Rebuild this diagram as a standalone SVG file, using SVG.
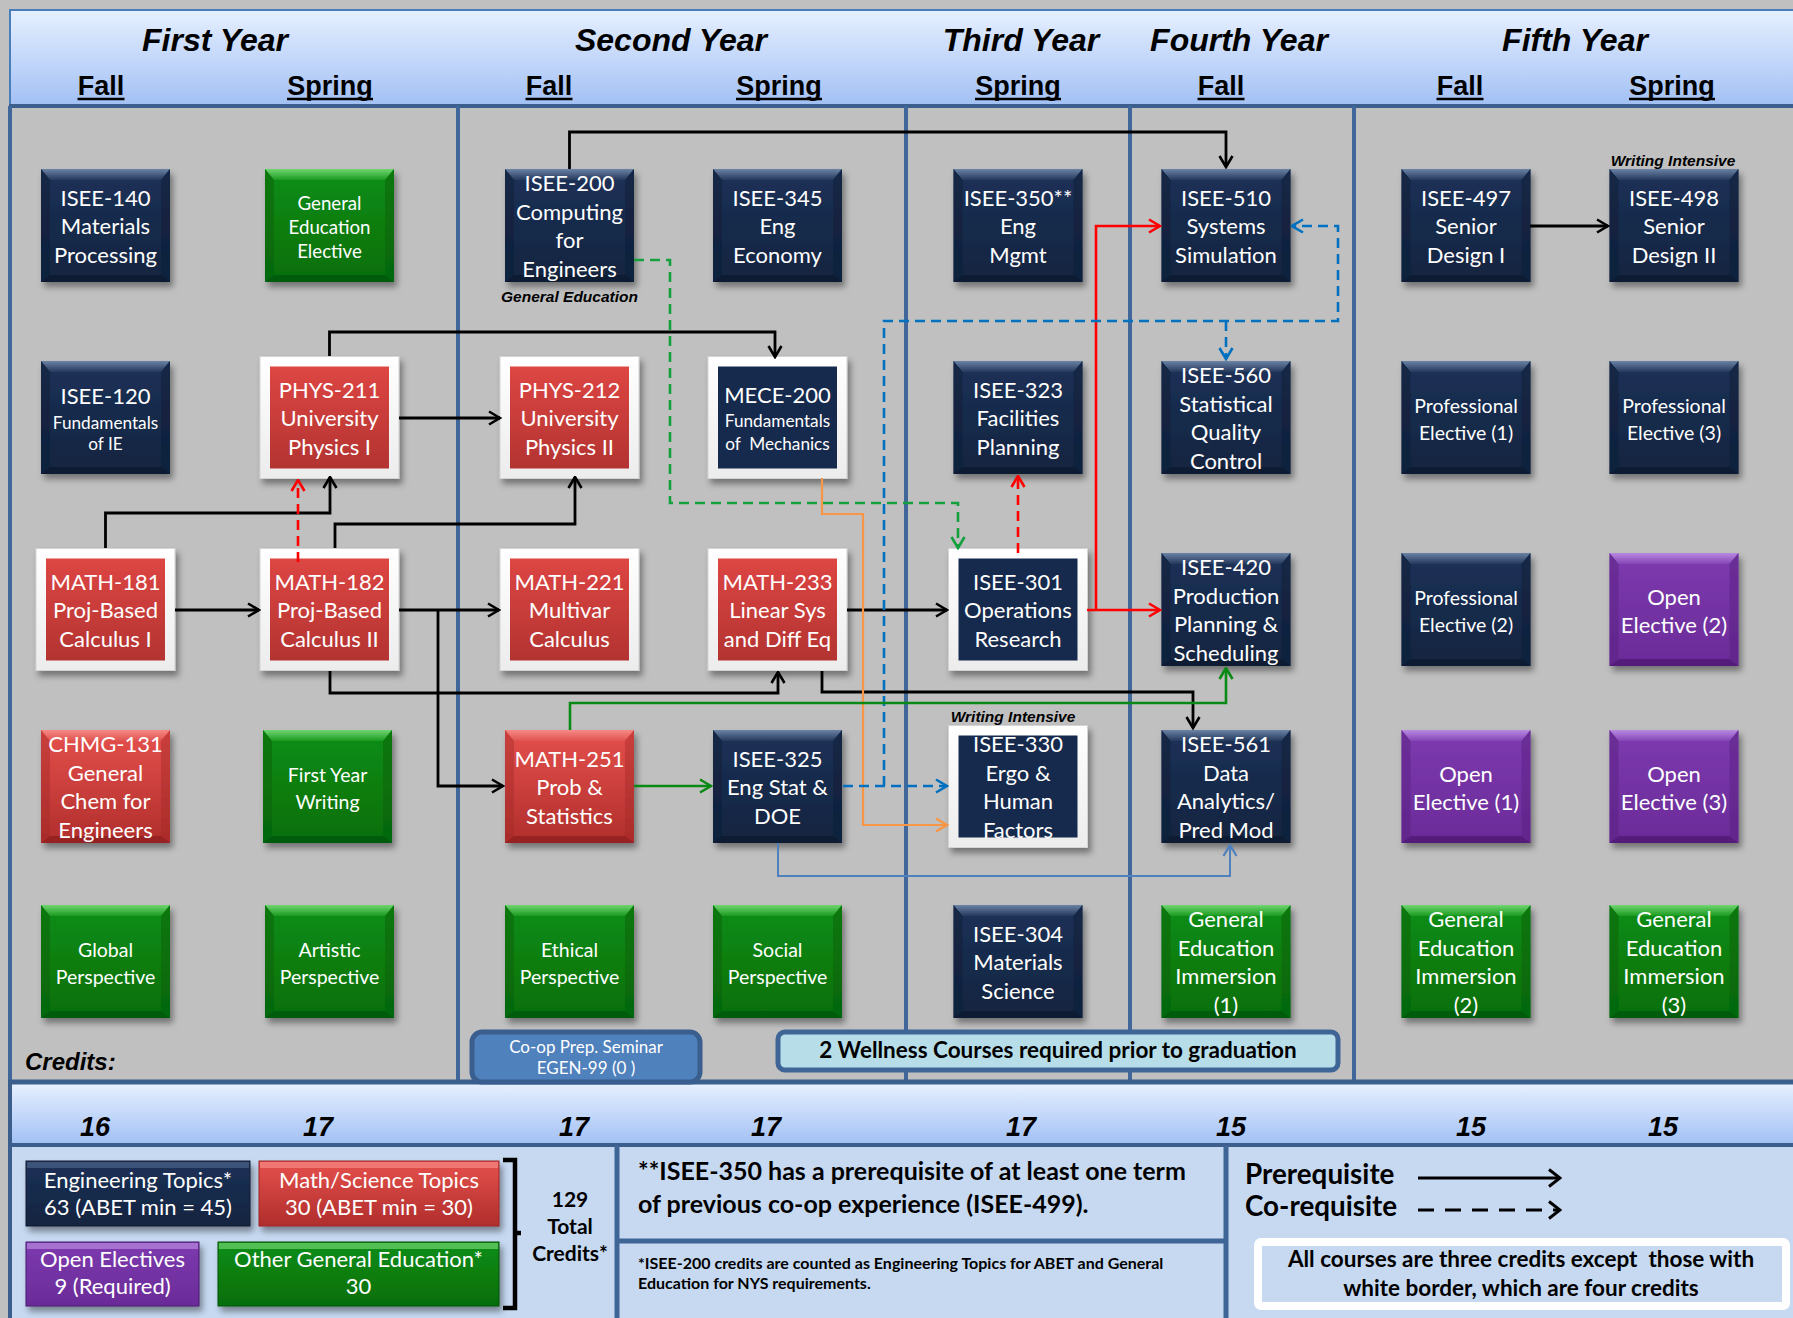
<svg xmlns="http://www.w3.org/2000/svg" xmlns:xlink="http://www.w3.org/1999/xlink" width="1793" height="1318" viewBox="0 0 1793 1318">
<defs>
<style>
.w{font-family:Lato,"Liberation Sans",sans-serif;fill:#fff;text-anchor:middle;font-size:22px}
.s19{font-size:19.5px}
.s18{font-size:18.7px}
.s17{font-size:17.2px}
.hd{font-family:"Liberation Sans",Arial,sans-serif;font-weight:bold;font-style:italic;text-anchor:middle;fill:#000}
.yr{font-size:32px}
.sem{font-size:27px;font-style:normal}
.cr{font-size:27px}
.lbl{font-family:"Liberation Sans",Arial,sans-serif;font-weight:bold;font-style:italic;font-size:15.5px;text-anchor:middle;fill:#000}
.bt{font-family:Lato,"Liberation Sans",sans-serif;font-weight:bold;fill:#000}
.sep{stroke:#41669a;stroke-width:4}
.k{stroke:#000;stroke-width:2.8}
.r{stroke:#f00;stroke-width:2.6}
.rd{stroke:#f00;stroke-width:2.6;stroke-dasharray:10 6}
.gd{stroke:#14a03c;stroke-width:2.6;stroke-dasharray:10 6}
.g{stroke:#0a8a14;stroke-width:2.6}
.bd{stroke:#0070c0;stroke-width:2.6;stroke-dasharray:10 6}
.lb{stroke:#4f81bd;stroke-width:2}
.o{stroke:#f79646;stroke-width:2.2}
</style>
<linearGradient id="gHdr" x1="0" y1="0" x2="0" y2="1"><stop offset="0" stop-color="#e6f0ff"/><stop offset="1" stop-color="#a2c0f4"/></linearGradient>
<linearGradient id="gNavy" x1="0" y1="0" x2="0" y2="1"><stop offset="0" stop-color="#1c3157"/><stop offset="1" stop-color="#13243f"/></linearGradient>
<linearGradient id="gNavyT" x1="0" y1="0" x2="0" y2="1"><stop offset="0" stop-color="#6b83a6"/><stop offset="1" stop-color="#25395c"/></linearGradient>
<linearGradient id="gGreen" x1="0" y1="0" x2="0" y2="1"><stop offset="0" stop-color="#0e8e15"/><stop offset="1" stop-color="#066e0c"/></linearGradient>
<linearGradient id="gGreenT" x1="0" y1="0" x2="0" y2="1"><stop offset="0" stop-color="#70d670"/><stop offset="1" stop-color="#1a9a20"/></linearGradient>
<linearGradient id="gPur" x1="0" y1="0" x2="0" y2="1"><stop offset="0" stop-color="#7d3aaf"/><stop offset="1" stop-color="#6a2b98"/></linearGradient>
<linearGradient id="gPurT" x1="0" y1="0" x2="0" y2="1"><stop offset="0" stop-color="#b88ae0"/><stop offset="1" stop-color="#8445b6"/></linearGradient>
<linearGradient id="gRed" x1="0" y1="0" x2="0" y2="1"><stop offset="0" stop-color="#e5504c"/><stop offset="1" stop-color="#b02e2c"/></linearGradient>
<linearGradient id="gRedT" x1="0" y1="0" x2="0" y2="1"><stop offset="0" stop-color="#f68a86"/><stop offset="1" stop-color="#e0524e"/></linearGradient>
<linearGradient id="gRedIn" x1="0" y1="0" x2="0" y2="1"><stop offset="0" stop-color="#dd4643"/><stop offset="1" stop-color="#b33331"/></linearGradient>
<linearGradient id="gWhite" x1="0" y1="0" x2="0" y2="1"><stop offset="0" stop-color="#ffffff"/><stop offset="1" stop-color="#ececec"/></linearGradient>
<filter id="sh" x="-10%" y="-10%" width="130%" height="130%"><feDropShadow dx="3" dy="5" stdDeviation="3" flood-color="#000" flood-opacity="0.4"/></filter>
<g id="bxN"><rect width="129" height="113" fill="url(#gNavy)"/><path d="M0,0H129L120,11H9Z" fill="url(#gNavyT)"/><path d="M0,113H129L120,106H9Z" fill="#0b172b" opacity="0.7"/><path d="M0,0L9,11V106L0,113Z" fill="#0f1f3a" opacity="0.6"/><path d="M129,0L120,11V106L129,113Z" fill="#0f1f3a" opacity="0.6"/></g>
<g id="bxG"><rect width="129" height="113" fill="url(#gGreen)"/><path d="M0,0H129L120,11H9Z" fill="url(#gGreenT)"/><path d="M0,113H129L120,106H9Z" fill="#04520a" opacity="0.7"/><path d="M0,0L9,11V106L0,113Z" fill="#05600a" opacity="0.5"/><path d="M129,0L120,11V106L129,113Z" fill="#05600a" opacity="0.5"/></g>
<g id="bxP"><rect width="129" height="113" fill="url(#gPur)"/><path d="M0,0H129L120,11H9Z" fill="url(#gPurT)"/><path d="M0,113H129L120,106H9Z" fill="#4a1a6e" opacity="0.7"/><path d="M0,0L9,11V106L0,113Z" fill="#5a2282" opacity="0.5"/><path d="M129,0L120,11V106L129,113Z" fill="#5a2282" opacity="0.5"/></g>
<g id="bxR"><rect width="129" height="113" fill="url(#gRed)"/><path d="M0,0H129L120,11H9Z" fill="url(#gRedT)"/><path d="M0,113H129L120,106H9Z" fill="#8a2020" opacity="0.7"/><path d="M0,0L9,11V106L0,113Z" fill="#a02828" opacity="0.4"/><path d="M129,0L120,11V106L129,113Z" fill="#a02828" opacity="0.4"/></g>
<g id="frN"><rect width="139" height="122" fill="url(#gWhite)" stroke="#d4d4d4"/><rect x="10" y="10" width="119" height="102" fill="#172b4d"/></g>
<g id="frR"><rect width="139" height="122" fill="url(#gWhite)" stroke="#d4d4d4"/><rect x="10" y="10" width="119" height="102" fill="url(#gRedIn)"/></g>
<marker id="aK" viewBox="0 0 14 16" refX="12.5" refY="8" markerWidth="14" markerHeight="16" markerUnits="userSpaceOnUse" orient="auto"><path d="M1.5,1.5L12.5,8L1.5,14.5" fill="none" stroke="#000" stroke-width="2.6"/></marker>
<marker id="aR" viewBox="0 0 14 16" refX="12.5" refY="8" markerWidth="14" markerHeight="16" markerUnits="userSpaceOnUse" orient="auto"><path d="M1.5,1.5L12.5,8L1.5,14.5" fill="none" stroke="#f00" stroke-width="2.6"/></marker>
<marker id="aGd" viewBox="0 0 14 16" refX="12.5" refY="8" markerWidth="14" markerHeight="16" markerUnits="userSpaceOnUse" orient="auto"><path d="M1.5,1.5L12.5,8L1.5,14.5" fill="none" stroke="#14a03c" stroke-width="2.6"/></marker>
<marker id="aG" viewBox="0 0 14 16" refX="12.5" refY="8" markerWidth="14" markerHeight="16" markerUnits="userSpaceOnUse" orient="auto"><path d="M1.5,1.5L12.5,8L1.5,14.5" fill="none" stroke="#0a8a14" stroke-width="2.6"/></marker>
<marker id="aB" viewBox="0 0 14 16" refX="12.5" refY="8" markerWidth="14" markerHeight="16" markerUnits="userSpaceOnUse" orient="auto"><path d="M1.5,1.5L12.5,8L1.5,14.5" fill="none" stroke="#0070c0" stroke-width="2.6"/></marker>
<marker id="aLb" viewBox="0 0 14 16" refX="12.5" refY="8" markerWidth="14" markerHeight="16" markerUnits="userSpaceOnUse" orient="auto"><path d="M1.5,1.5L12.5,8L1.5,14.5" fill="none" stroke="#4f81bd" stroke-width="2.2"/></marker>
<marker id="aO" viewBox="0 0 14 16" refX="12.5" refY="8" markerWidth="14" markerHeight="16" markerUnits="userSpaceOnUse" orient="auto"><path d="M1.5,1.5L12.5,8L1.5,14.5" fill="none" stroke="#f79646" stroke-width="2.4"/></marker>
<marker id="aL" viewBox="0 0 14 20" refX="12.5" refY="10" markerWidth="14" markerHeight="20" markerUnits="userSpaceOnUse" orient="auto"><path d="M1.5,1.5L12.5,10L1.5,18.5" fill="none" stroke="#000" stroke-width="3"/></marker>
</defs>

<!-- background -->
<rect width="1793" height="1318" fill="#c0c0c0"/>
<rect x="10" y="10" width="1790" height="96" fill="url(#gHdr)" stroke="#4a7ebb" stroke-width="2"/>
<line x1="9" y1="106" x2="1793" y2="106" stroke="#3b5e8c" stroke-width="4"/>

<!-- header texts -->
<g id="header">
<text class="hd yr" x="215" y="51">First Year</text>
<text class="hd yr" x="671" y="51">Second Year</text>
<text class="hd yr" x="1021" y="51">Third Year</text>
<text class="hd yr" x="1239" y="51">Fourth Year</text>
<text class="hd yr" x="1575" y="51">Fifth Year</text>
<text class="hd sem" x="101" y="95">Fall</text>
<text class="hd sem" x="330" y="95">Spring</text>
<text class="hd sem" x="549" y="95">Fall</text>
<text class="hd sem" x="779" y="95">Spring</text>
<text class="hd sem" x="1018" y="95">Spring</text>
<text class="hd sem" x="1221" y="95">Fall</text>
<text class="hd sem" x="1460" y="95">Fall</text>
<text class="hd sem" x="1672" y="95">Spring</text>
<g stroke="#000" stroke-width="2.6">
<line x1="77.5" y1="99" x2="124.5" y2="99"/>
<line x1="287" y1="99" x2="373" y2="99"/>
<line x1="525.5" y1="99" x2="572.5" y2="99"/>
<line x1="736" y1="99" x2="822" y2="99"/>
<line x1="975" y1="99" x2="1061" y2="99"/>
<line x1="1197.5" y1="99" x2="1244.5" y2="99"/>
<line x1="1436.5" y1="99" x2="1483.5" y2="99"/>
<line x1="1629" y1="99" x2="1715" y2="99"/>
</g>
</g>

<!-- column separators -->
<g id="separators">
<line class="sep" x1="10" y1="106" x2="10" y2="1318"/>
<line class="sep" x1="458" y1="106" x2="458" y2="1080"/>
<line class="sep" x1="906" y1="106" x2="906" y2="1080"/>
<line class="sep" x1="1130" y1="106" x2="1130" y2="1080"/>
<line class="sep" x1="1354" y1="106" x2="1354" y2="1080"/>
</g>

<!-- bottom bands -->
<g id="footer">
<rect x="10" y="1084" width="1790" height="60" fill="url(#gHdr)"/>
<rect x="10" y="1146" width="1790" height="180" fill="#c6d9f1"/>
<line x1="8" y1="1082" x2="1793" y2="1082" stroke="#3b5e8c" stroke-width="5"/>
<line x1="8" y1="1145" x2="1793" y2="1145" stroke="#3b5e8c" stroke-width="4"/>
<line x1="10" y1="1080" x2="10" y2="1318" stroke="#3b5e8c" stroke-width="4"/>
<line x1="617" y1="1145" x2="617" y2="1318" stroke="#3f6597" stroke-width="5"/>
<line x1="1226" y1="1145" x2="1226" y2="1318" stroke="#3f6597" stroke-width="5"/>
<line x1="617" y1="1241" x2="1226" y2="1241" stroke="#3f6597" stroke-width="5"/>
<text class="hd cr" x="95" y="1136">16</text>
<text class="hd cr" x="318" y="1136">17</text>
<text class="hd cr" x="574" y="1136">17</text>
<text class="hd cr" x="766" y="1136">17</text>
<text class="hd cr" x="1021" y="1136">17</text>
<text class="hd cr" x="1231" y="1136">15</text>
<text class="hd cr" x="1471" y="1136">15</text>
<text class="hd cr" x="1663" y="1136">15</text>
<text class="hd" x="25" y="1070" style="font-size:24px;text-anchor:start">Credits:</text>
</g>

<!-- nodes -->
<g id="nodes">
<g id="n-isee140"><use xlink:href="#bxN" x="41" y="169" filter="url(#sh)"/><text class="w"><tspan x="105.5" y="205.5">ISEE-140</tspan><tspan x="105.5" y="234">Materials</tspan><tspan x="105.5" y="262.5">Processing</tspan></text></g>
<g id="n-gened"><use xlink:href="#bxG" x="265" y="169" filter="url(#sh)"/><text class="w s18"><tspan x="329.5" y="209.5">General</tspan><tspan x="329.5" y="233.5">Education</tspan><tspan x="329.5" y="257.5">Elective</tspan></text></g>
<g id="n-isee200"><use xlink:href="#bxN" x="505" y="169" filter="url(#sh)"/><text class="w"><tspan x="569.5" y="191">ISEE-200</tspan><tspan x="569.5" y="220">Computing</tspan><tspan x="569.5" y="248">for</tspan><tspan x="569.5" y="277">Engineers</tspan></text><text class="lbl" x="569.5" y="302">General Education</text></g>
<g id="n-isee345"><use xlink:href="#bxN" x="713" y="169" filter="url(#sh)"/><text class="w"><tspan x="777.5" y="205.5">ISEE-345</tspan><tspan x="777.5" y="234">Eng</tspan><tspan x="777.5" y="262.5">Economy</tspan></text></g>
<g id="n-isee350"><use xlink:href="#bxN" x="953.5" y="169" filter="url(#sh)"/><text class="w"><tspan x="1018" y="205.5">ISEE-350**</tspan><tspan x="1018" y="234">Eng</tspan><tspan x="1018" y="262.5">Mgmt</tspan></text></g>
<g id="n-isee510"><use xlink:href="#bxN" x="1161.5" y="169" filter="url(#sh)"/><text class="w"><tspan x="1226" y="205.5">ISEE-510</tspan><tspan x="1226" y="234">Systems</tspan><tspan x="1226" y="262.5">Simulation</tspan></text></g>
<g id="n-isee497"><use xlink:href="#bxN" x="1401.5" y="169" filter="url(#sh)"/><text class="w"><tspan x="1466" y="205.5">ISEE-497</tspan><tspan x="1466" y="234">Senior</tspan><tspan x="1466" y="262.5">Design I</tspan></text></g>
<g id="n-isee498"><use xlink:href="#bxN" x="1609.5" y="169" filter="url(#sh)"/><text class="w"><tspan x="1674" y="205.5">ISEE-498</tspan><tspan x="1674" y="234">Senior</tspan><tspan x="1674" y="262.5">Design II</tspan></text><text class="lbl" x="1673" y="166">Writing Intensive</text></g>

<g id="n-isee120"><use xlink:href="#bxN" x="41" y="361" filter="url(#sh)"/><text class="w"><tspan x="105.5" y="404">ISEE-120</tspan><tspan class="s17" x="105.5" y="429">Fundamentals</tspan><tspan class="s17" x="105.5" y="450">of IE</tspan></text></g>
<g id="n-phys211"><use xlink:href="#frR" x="260" y="356.5" filter="url(#sh)"/><text class="w"><tspan x="329.5" y="397.5">PHYS-211</tspan><tspan x="329.5" y="426">University</tspan><tspan x="329.5" y="454.5">Physics I</tspan></text></g>
<g id="n-phys212"><use xlink:href="#frR" x="500" y="356.5" filter="url(#sh)"/><text class="w"><tspan x="569.5" y="397.5">PHYS-212</tspan><tspan x="569.5" y="426">University</tspan><tspan x="569.5" y="454.5">Physics II</tspan></text></g>
<g id="n-mece200"><use xlink:href="#frN" x="708" y="356.5" filter="url(#sh)"/><text class="w"><tspan x="777.5" y="403">MECE-200</tspan><tspan class="s17" x="777.5" y="427">Fundamentals</tspan><tspan class="s17" x="777.5" y="450">of&#160; Mechanics</tspan></text></g>
<g id="n-isee323"><use xlink:href="#bxN" x="953.5" y="361" filter="url(#sh)"/><text class="w"><tspan x="1018" y="397.5">ISEE-323</tspan><tspan x="1018" y="426">Facilities</tspan><tspan x="1018" y="454.5">Planning</tspan></text></g>
<g id="n-isee560"><use xlink:href="#bxN" x="1161.5" y="361" filter="url(#sh)"/><text class="w"><tspan x="1226" y="383">ISEE-560</tspan><tspan x="1226" y="412">Statistical</tspan><tspan x="1226" y="440">Quality</tspan><tspan x="1226" y="469">Control</tspan></text></g>
<g id="n-prof1"><use xlink:href="#bxN" x="1401.5" y="361" filter="url(#sh)"/><text class="w s19"><tspan x="1466" y="412.5">Professional</tspan><tspan x="1466" y="439.5">Elective (1)</tspan></text></g>
<g id="n-prof3"><use xlink:href="#bxN" x="1609.5" y="361" filter="url(#sh)"/><text class="w s19"><tspan x="1674" y="412.5">Professional</tspan><tspan x="1674" y="439.5">Elective (3)</tspan></text></g>

<g id="n-math181"><use xlink:href="#frR" x="36" y="548.5" filter="url(#sh)"/><text class="w"><tspan x="105.5" y="589.5">MATH-181</tspan><tspan x="105.5" y="618">Proj-Based</tspan><tspan x="105.5" y="646.5">Calculus I</tspan></text></g>
<g id="n-math182"><use xlink:href="#frR" x="260" y="548.5" filter="url(#sh)"/><text class="w"><tspan x="329.5" y="589.5">MATH-182</tspan><tspan x="329.5" y="618">Proj-Based</tspan><tspan x="329.5" y="646.5">Calculus II</tspan></text></g>
<g id="n-math221"><use xlink:href="#frR" x="500" y="548.5" filter="url(#sh)"/><text class="w"><tspan x="569.5" y="589.5">MATH-221</tspan><tspan x="569.5" y="618">Multivar</tspan><tspan x="569.5" y="646.5">Calculus</tspan></text></g>
<g id="n-math233"><use xlink:href="#frR" x="708" y="548.5" filter="url(#sh)"/><text class="w"><tspan x="777.5" y="589.5">MATH-233</tspan><tspan x="777.5" y="618">Linear Sys</tspan><tspan x="777.5" y="646.5">and Diff Eq</tspan></text></g>
<g id="n-isee301"><use xlink:href="#frN" x="948.5" y="548.5" filter="url(#sh)"/><text class="w"><tspan x="1018" y="589.5">ISEE-301</tspan><tspan x="1018" y="618">Operations</tspan><tspan x="1018" y="646.5">Research</tspan></text></g>
<g id="n-isee420"><use xlink:href="#bxN" x="1161.5" y="553" filter="url(#sh)"/><text class="w"><tspan x="1226" y="575">ISEE-420</tspan><tspan x="1226" y="604">Production</tspan><tspan x="1226" y="632">Planning &amp;</tspan><tspan x="1226" y="661">Scheduling</tspan></text></g>
<g id="n-prof2"><use xlink:href="#bxN" x="1401.5" y="553" filter="url(#sh)"/><text class="w s19"><tspan x="1466" y="604.5">Professional</tspan><tspan x="1466" y="631.5">Elective (2)</tspan></text></g>
<g id="n-open2"><use xlink:href="#bxP" x="1609.5" y="553" filter="url(#sh)"/><text class="w"><tspan x="1674" y="604.5">Open</tspan><tspan x="1674" y="632.5">Elective (2)</tspan></text></g>

<g id="n-chmg131"><use xlink:href="#bxR" x="41" y="730" filter="url(#sh)"/><text class="w"><tspan x="105.5" y="752">CHMG-131</tspan><tspan x="105.5" y="781">General</tspan><tspan x="105.5" y="809">Chem for</tspan><tspan x="105.5" y="838">Engineers</tspan></text></g>
<g id="n-fyw"><use xlink:href="#bxG" x="263" y="730" filter="url(#sh)"/><text class="w s19"><tspan x="327.5" y="781.5">First Year</tspan><tspan x="327.5" y="808.5">Writing</tspan></text></g>
<g id="n-math251"><use xlink:href="#bxR" x="505" y="730" filter="url(#sh)"/><text class="w"><tspan x="569.5" y="766.5">MATH-251</tspan><tspan x="569.5" y="795">Prob &amp;</tspan><tspan x="569.5" y="823.5">Statistics</tspan></text></g>
<g id="n-isee325"><use xlink:href="#bxN" x="713" y="730" filter="url(#sh)"/><text class="w"><tspan x="777.5" y="766.5">ISEE-325</tspan><tspan x="777.5" y="795">Eng Stat &amp;</tspan><tspan x="777.5" y="823.5">DOE</tspan></text></g>
<g id="n-isee330"><use xlink:href="#frN" x="948.5" y="725.5" filter="url(#sh)"/><text class="w"><tspan x="1018" y="752">ISEE-330</tspan><tspan x="1018" y="781">Ergo &amp;</tspan><tspan x="1018" y="809">Human</tspan><tspan x="1018" y="838">Factors</tspan></text><text class="lbl" x="1013" y="722">Writing Intensive</text></g>
<g id="n-isee561"><use xlink:href="#bxN" x="1161.5" y="730" filter="url(#sh)"/><text class="w"><tspan x="1226" y="752">ISEE-561</tspan><tspan x="1226" y="781">Data</tspan><tspan x="1226" y="809">Analytics/</tspan><tspan x="1226" y="838">Pred Mod</tspan></text></g>
<g id="n-open1"><use xlink:href="#bxP" x="1401.5" y="730" filter="url(#sh)"/><text class="w"><tspan x="1466" y="781.5">Open</tspan><tspan x="1466" y="809.5">Elective (1)</tspan></text></g>
<g id="n-open3"><use xlink:href="#bxP" x="1609.5" y="730" filter="url(#sh)"/><text class="w"><tspan x="1674" y="781.5">Open</tspan><tspan x="1674" y="809.5">Elective (3)</tspan></text></g>

<g id="n-global"><use xlink:href="#bxG" x="41" y="905" filter="url(#sh)"/><text class="w s19"><tspan x="105.5" y="956.5">Global</tspan><tspan x="105.5" y="983.5">Perspective</tspan></text></g>
<g id="n-artistic"><use xlink:href="#bxG" x="265" y="905" filter="url(#sh)"/><text class="w s19"><tspan x="329.5" y="956.5">Artistic</tspan><tspan x="329.5" y="983.5">Perspective</tspan></text></g>
<g id="n-ethical"><use xlink:href="#bxG" x="505" y="905" filter="url(#sh)"/><text class="w s19"><tspan x="569.5" y="956.5">Ethical</tspan><tspan x="569.5" y="983.5">Perspective</tspan></text></g>
<g id="n-social"><use xlink:href="#bxG" x="713" y="905" filter="url(#sh)"/><text class="w s19"><tspan x="777.5" y="956.5">Social</tspan><tspan x="777.5" y="983.5">Perspective</tspan></text></g>
<g id="n-isee304"><use xlink:href="#bxN" x="953.5" y="905" filter="url(#sh)"/><text class="w"><tspan x="1018" y="941.5">ISEE-304</tspan><tspan x="1018" y="970">Materials</tspan><tspan x="1018" y="998.5">Science</tspan></text></g>
<g id="n-gei1"><use xlink:href="#bxG" x="1161.5" y="905" filter="url(#sh)"/><text class="w"><tspan x="1226" y="927">General</tspan><tspan x="1226" y="956">Education</tspan><tspan x="1226" y="984">Immersion</tspan><tspan x="1226" y="1013">(1)</tspan></text></g>
<g id="n-gei2"><use xlink:href="#bxG" x="1401.5" y="905" filter="url(#sh)"/><text class="w"><tspan x="1466" y="927">General</tspan><tspan x="1466" y="956">Education</tspan><tspan x="1466" y="984">Immersion</tspan><tspan x="1466" y="1013">(2)</tspan></text></g>
<g id="n-gei3"><use xlink:href="#bxG" x="1609.5" y="905" filter="url(#sh)"/><text class="w"><tspan x="1674" y="927">General</tspan><tspan x="1674" y="956">Education</tspan><tspan x="1674" y="984">Immersion</tspan><tspan x="1674" y="1013">(3)</tspan></text></g>

<g id="n-coop"><rect x="472" y="1032" width="228" height="50" rx="10" fill="#4f81bd" stroke="#3a5f8f" stroke-width="5"/><text class="w" style="font-size:17px"><tspan x="586" y="1053">Co-op Prep. Seminar</tspan><tspan x="586" y="1074">EGEN-99 (0 )</tspan></text></g>
<g id="n-wellness"><rect x="778" y="1032" width="560" height="38" rx="7" fill="#b7dee8" stroke="#3f6597" stroke-width="5"/><text class="bt" x="1058" y="1058" style="font-size:22.5px;text-anchor:middle">2 Wellness Courses required prior to graduation</text></g>
</g>

<!-- connectors -->
<g id="connectors" fill="none">
<path class="k" d="M569.5,169V132H1226V167" marker-end="url(#aK)"/>
<path class="k" d="M329.5,356V332H775V357" marker-end="url(#aK)"/>
<path class="k" d="M399,418H500" marker-end="url(#aK)"/>
<path class="k" d="M105.5,548V513H330V477" marker-end="url(#aK)"/>
<path class="k" d="M335,548V524H575V477" marker-end="url(#aK)"/>
<path class="rd" d="M298,562V480" marker-end="url(#aR)"/>
<path class="k" d="M175,610H259" marker-end="url(#aK)"/>
<path class="k" d="M399,610H499" marker-end="url(#aK)"/>
<path class="k" d="M438,610V786H503" marker-end="url(#aK)"/>
<path class="k" d="M330,671V693H778V672" marker-end="url(#aK)"/>
<path class="k" d="M822,671V692H1193V728" marker-end="url(#aK)"/>
<path class="k" d="M847,610H947" marker-end="url(#aK)"/>
<path class="r" d="M1087,610H1160" marker-end="url(#aR)"/>
<path class="r" d="M1096,610V226H1160" marker-end="url(#aR)"/>
<path class="rd" d="M1018,553V476" marker-end="url(#aR)"/>
<path class="gd" d="M634,260H670V503H958V548" marker-end="url(#aGd)"/>
<path class="o" d="M822,478V514H863V825H947" marker-end="url(#aO)"/>
<path class="bd" d="M843,786H947" marker-end="url(#aB)"/>
<path class="bd" d="M884,786V321H1338V226H1292" marker-end="url(#aB)"/>
<path class="bd" d="M1226,321V359" marker-end="url(#aB)"/>
<path class="g" d="M634,786H711" marker-end="url(#aG)"/>
<path class="g" d="M570,730V703H1226V668" marker-end="url(#aG)"/>
<path class="lb" d="M778,843V876H1230V845" marker-end="url(#aLb)"/>
<path class="k" d="M1530,226H1608" marker-end="url(#aK)"/>
</g>

<!-- legend / bottom panel -->
<g id="legend">
<g id="lg-eng"><rect x="26" y="1161" width="224" height="65" fill="url(#gNavy)" stroke="#0e1c33" filter="url(#sh)"/><rect x="27" y="1162" width="222" height="6" fill="#4a6388" opacity="0.7"/><text class="w"><tspan x="138" y="1188">Engineering Topics*</tspan><tspan x="138" y="1215">63 (ABET min = 45)</tspan></text></g>
<g id="lg-math"><rect x="259" y="1161" width="240" height="65" fill="url(#gRed)" stroke="#9a2626" filter="url(#sh)"/><rect x="260" y="1162" width="238" height="6" fill="#f68a86" opacity="0.7"/><text class="w"><tspan x="379" y="1188">Math/Science Topics</tspan><tspan x="379" y="1215">30 (ABET min = 30)</tspan></text></g>
<g id="lg-open"><rect x="26" y="1242" width="173" height="64" fill="url(#gPur)" stroke="#4a1a6e" filter="url(#sh)"/><rect x="27" y="1243" width="171" height="6" fill="#b88ae0" opacity="0.7"/><text class="w"><tspan x="112.5" y="1267">Open Electives</tspan><tspan x="112.5" y="1294">9 (Required)</tspan></text></g>
<g id="lg-gen"><rect x="218" y="1242" width="281" height="64" fill="url(#gGreen)" stroke="#04520a" filter="url(#sh)"/><rect x="219" y="1243" width="279" height="6" fill="#70d670" opacity="0.7"/><text class="w"><tspan x="358.5" y="1267">Other General Education*</tspan><tspan x="358.5" y="1294">30</tspan></text></g>
<path d="M503,1160H515V1308H503M515,1233H521" fill="none" stroke="#000" stroke-width="4.5"/>
<text class="bt" style="font-size:21px;text-anchor:middle"><tspan x="570" y="1207">129</tspan><tspan x="570" y="1234">Total</tspan><tspan x="570" y="1261">Credits*</tspan></text>
<text class="bt" style="font-size:25px"><tspan x="638" y="1180">**ISEE-350 has a prerequisite of at least one term</tspan><tspan x="638" y="1213">of previous co-op experience (ISEE-499).</tspan></text>
<text class="bt" style="font-size:16px"><tspan x="638" y="1269">*ISEE-200 credits are counted as Engineering Topics for ABET and General</tspan><tspan x="638" y="1289">Education for NYS requirements.</tspan></text>
<text class="bt" style="font-size:27.8px"><tspan x="1245" y="1184">Prerequisite</tspan><tspan x="1245" y="1216">Co-requisite</tspan></text>
<path d="M1418,1178H1560" stroke="#000" stroke-width="3" fill="none" marker-end="url(#aL)"/>
<path d="M1418,1210H1560" stroke="#000" stroke-width="3" stroke-dasharray="16 11" fill="none" marker-end="url(#aL)"/>
<rect x="1258" y="1242" width="528" height="64" rx="3" fill="#c6d9f1" stroke="#fff" stroke-width="8"/>
<text class="bt" style="font-size:22.5px;text-anchor:middle"><tspan x="1521" y="1267">All courses are three credits except&#160; those with</tspan><tspan x="1521" y="1296">white border, which are four credits</tspan></text>
</g>
</svg>
